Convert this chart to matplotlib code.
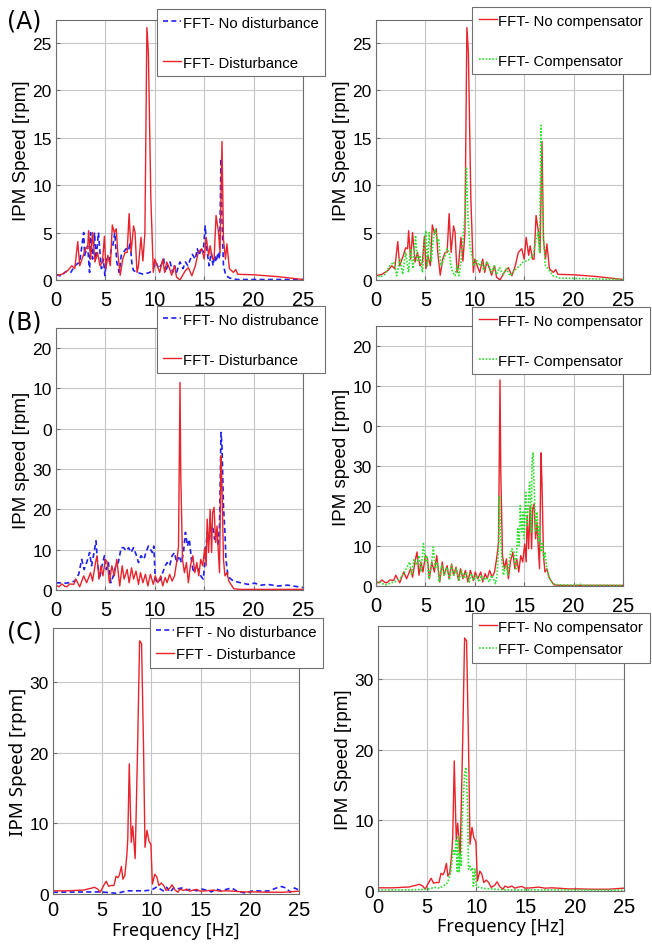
import matplotlib
matplotlib.use('Agg')
import matplotlib.pyplot as plt

plt.rcParams['font.family'] = 'Liberation Sans'

# (A) spectra
a_red_f = [0, 0.6, 1.2, 1.6, 1.9, 2.2, 2.4, 2.8, 3.0, 3.2, 3.3, 3.5, 3.7, 3.95, 4.2, 4.45, 4.7, 4.9, 5.05, 5.25,
           5.5, 5.7, 5.9, 6.1, 6.25, 6.5, 6.75, 7.0, 7.2, 7.4, 7.6, 7.85, 8.0, 8.2, 8.35, 8.6, 8.8, 9.0, 9.2, 9.35,
           9.6, 9.85, 10.0, 10.25, 10.5, 10.8, 11.0, 11.2, 11.5, 11.7, 12.0, 12.2, 12.55, 12.8, 13.1, 13.4, 13.75, 14.1, 14.4, 14.75,
           15.0, 15.2, 15.45, 15.6, 15.85, 16.0, 16.2, 16.45, 16.6, 16.8, 16.95, 17.15, 17.3, 17.55, 17.95, 18.2, 18.4, 20.0, 22.5, 25.0]
a_red = [0.45, 0.6, 1.0, 1.5, 1.2, 4.05, 1.5, 2.7, 3.4, 3.3, 5.2, 2.2, 5.0, 1.9, 2.9, 1.5, 1.9, 4.6, 1.2, 2.6,
         1.5, 5.8, 5.0, 5.4, 2.9, 0.5, 2.2, 2.9, 2.9, 7.0, 2.9, 5.7, 5.0, 0.8, 1.5, 4.5, 2.0, 5.0, 26.6, 24.0,
         8.6, 0.8, 2.2, 1.5, 0.8, 2.2, 0.8, 1.9, 1.2, 0.5, 1.5, 0.3, 0.0, 0.45, 1.0, 1.3, 0.45, 1.5, 2.9, 3.3,
         2.2, 4.5, 2.6, 3.6, 2.2, 2.2, 6.8, 5.0, 2.9, 14.6, 4.3, 2.2, 3.8, 1.2, 0.8, 1.1, 0.6, 0.55, 0.35, 0.05]

a_blue_f = [0, 0.5, 1.0, 1.5, 1.9, 2.4, 2.8, 2.9, 3.2, 3.4, 3.5, 3.7, 3.9, 4.05, 4.3, 4.45, 4.6, 4.8, 4.95, 5.1,
            5.4, 5.6, 5.75, 5.95, 6.15, 6.4, 6.6, 6.8, 7.1, 7.35, 7.5, 7.7, 7.85, 8.2, 8.85, 9.5, 9.85, 10.1, 10.4, 10.6,
            10.9, 11.05, 11.3, 11.55, 11.8, 12.0, 12.2, 12.55, 12.85, 13.1, 13.35, 13.6, 13.8, 14.1, 14.3, 14.5, 14.7, 14.9, 15.1, 15.3,
            15.5, 15.7, 15.9, 16.05, 16.2, 16.4, 16.55, 16.7, 16.8, 16.95, 17.2, 17.6, 18.3, 25.0]
a_blue = [0.6, 0.4, 0.9, 0.8, 1.5, 1.9, 5.0, 2.6, 3.6, 0.8, 5.0, 2.2, 5.0, 2.2, 5.0, 2.9, 1.2, 2.2, 0.45, 2.2,
          1.9, 3.3, 3.6, 5.0, 1.9, 0.8, 2.6, 2.9, 3.3, 3.1, 4.0, 1.5, 1.0, 0.8, 0.6, 0.8, 1.2, 1.9, 1.2, 1.5,
          2.2, 0.8, 1.5, 1.9, 0.8, 1.5, 0.8, 1.9, 1.2, 1.9, 1.5, 2.2, 2.7, 2.2, 3.3, 2.6, 3.4, 2.9, 5.7, 2.9,
          1.5, 2.9, 1.5, 2.6, 1.9, 2.9, 2.2, 12.8, 6.4, 1.5, 0.45, 0.2, 0.05, 0.05]

a_green_f = [0, 0.4, 0.9, 1.4, 1.8, 2.1, 2.4, 2.7, 3.0, 3.3, 3.5, 3.75, 4.0, 4.2, 4.45, 4.7, 4.85, 5.05, 5.2, 5.4,
             5.6, 5.8, 6.0, 6.2, 6.35, 6.55, 6.75, 7.0, 7.2, 7.4, 7.6, 7.75, 8.0, 8.2, 8.4, 8.6, 8.8, 9.0, 9.15, 9.3,
             9.5, 9.7, 9.9, 10.15, 10.45, 10.7, 10.9, 11.2, 11.45, 11.7, 11.95, 12.2, 12.5, 12.85, 13.2, 13.55, 13.9, 14.2, 14.55, 14.9,
             15.2, 15.55, 15.9, 16.15, 16.4, 16.55, 16.7, 16.8, 16.95, 17.15, 17.4, 17.9, 18.6, 25.0]
a_green = [0.7, 0.3, 0.6, 1.5, 1.9, 0.45, 2.2, 0.6, 2.9, 0.8, 3.3, 1.2, 4.7, 1.9, 2.6, 0.8, 3.3, 5.2, 1.5, 5.0,
           1.9, 4.3, 5.4, 4.0, 4.3, 1.5, 1.9, 2.6, 3.3, 2.9, 1.5, 0.8, 0.45, 1.5, 0.45, 1.9, 4.3, 6.8, 11.9, 6.8,
           3.6, 2.6, 1.5, 2.2, 1.5, 1.9, 1.0, 1.9, 1.5, 0.8, 1.5, 0.6, 1.3, 0.6, 1.2, 0.45, 0.8, 1.2, 1.5, 1.9,
           2.0, 2.2, 2.6, 4.0, 5.0, 2.9, 16.3, 10.0, 4.3, 1.5, 1.2, 0.45, 0.2, 0.05]

# (B) spectra
b_red_f = [0, 0.3, 0.6, 0.9, 1.1, 1.4, 1.8, 2.0, 2.4, 2.8, 3.1, 3.5, 3.7, 4.0, 4.15, 4.35, 4.55, 4.75, 5.0, 5.2,
           5.4, 5.65, 5.9, 6.15, 6.45, 6.7, 6.9, 7.2, 7.4, 7.65, 7.85, 8.1, 8.35, 8.55, 8.8, 9.05, 9.3, 9.55, 9.85, 10.05,
           10.3, 10.6, 10.8, 11.05, 11.25, 11.5, 11.75, 12.0, 12.25, 12.4, 12.55, 12.63, 12.7, 12.8, 13.0, 13.2, 13.4, 13.6, 13.85, 14.05,
           14.25, 14.45, 14.65, 14.85, 15.05, 15.2, 15.3, 15.45, 15.6, 15.75, 15.85, 16.0, 16.15, 16.3, 16.4, 16.55, 16.7, 16.8, 16.95, 17.1,
           17.3, 17.5, 17.7, 18.0, 18.7, 25.0]
b_red = [1.2, 0.8, 1.5, 0.9, 0.8, 1.5, 1.4, 2.7, 0.8, 3.5, 1.8, 4.3, 2.2, 6.8, 8.5, 2.7, 6.0, 3.5, 7.6, 6.8,
         1.8, 6.0, 3.5, 7.6, 1.0, 6.0, 2.7, 5.1, 1.8, 5.5, 2.7, 4.7, 1.4, 4.3, 1.8, 3.9, 1.0, 3.9, 1.4, 3.5,
         1.8, 3.5, 1.0, 3.1, 1.8, 3.9, 2.2, 3.5, 7.6, 10.9, 51.5, 28.3, 20.0, 7.6, 4.3, 6.8, 1.8, 6.0, 8.5, 4.3,
         6.8, 3.5, 7.6, 6.0, 10.5, 6.0, 17.6, 9.3, 20.0, 9.3, 19.2, 20.5, 11.8, 15.9, 10.9, 4.3, 33.3, 25.8, 7.6, 3.5,
         4.3, 2.2, 1.4, 0.3, 0.15, 0.15]

b_blue_f = [0, 1.1, 1.9, 2.3, 2.6, 2.85, 3.1, 3.4, 3.6, 3.85, 4.05, 4.2, 4.4, 4.65, 4.9, 5.1, 5.3, 5.55, 5.8, 6.05,
            6.3, 6.6, 6.85, 7.1, 7.35, 7.6, 7.85, 8.15, 8.35, 8.6, 8.9, 9.1, 9.35, 9.55, 9.75, 9.9, 10.05, 10.3, 10.6, 10.8,
            11.05, 11.25, 11.5, 11.75, 12.0, 12.2, 12.45, 12.7, 12.9, 13.1, 13.3, 13.5, 13.7, 13.9, 14.15, 14.4, 14.65, 14.9, 15.1, 15.3,
            15.5, 15.65, 15.85, 16.05, 16.25, 16.4, 16.55, 16.7, 16.8, 16.95, 17.1, 17.2, 17.4, 17.7, 18.0, 18.7, 19.4, 20.1, 20.75, 21.4,
            22.45, 23.45, 24.5, 25.0]
b_blue = [1.8, 1.7, 2.2, 3.9, 7.6, 5.1, 6.8, 9.3, 6.0, 9.3, 12.2, 6.8, 2.7, 6.0, 8.5, 5.1, 6.8, 1.8, 3.5, 6.0,
          6.8, 10.5, 10.5, 9.7, 10.5, 9.3, 10.5, 8.5, 6.8, 8.5, 7.6, 9.3, 10.9, 10.1, 9.3, 10.9, 2.7, 1.8, 2.7, 4.3,
          6.0, 6.8, 6.0, 8.5, 9.3, 6.8, 8.5, 6.8, 9.3, 14.3, 10.9, 12.6, 7.6, 4.3, 6.0, 5.1, 3.5, 2.7, 7.6, 14.3,
          12.6, 15.1, 15.9, 12.6, 14.3, 10.9, 15.9, 39.1, 35.8, 20.9, 14.3, 7.6, 3.5, 2.7, 2.2, 1.8, 1.4, 1.7, 1.2, 1.4,
          1.0, 1.2, 0.8, 0.6]

b_green_f = [0, 0.4, 0.8, 1.1, 1.5, 1.9, 2.4, 2.9, 3.4, 3.6, 3.85, 4.1, 4.35, 4.55, 4.8, 5.0, 5.15, 5.35, 5.6, 5.8,
             6.0, 6.2, 6.4, 6.65, 6.9, 7.15, 7.45, 7.65, 7.9, 8.15, 8.4, 8.65, 8.9, 9.15, 9.45, 9.65, 9.9, 10.15, 10.45, 10.65,
             10.9, 11.2, 11.45, 11.7, 11.95, 12.1, 12.25, 12.4, 12.5, 12.6, 12.75, 12.9, 13.15, 13.35, 13.55, 13.75, 13.95, 14.15, 14.35, 14.5,
             14.6, 14.75, 14.9, 15.0, 15.15, 15.3, 15.4, 15.55, 15.7, 15.8, 15.9, 16.0, 16.15, 16.3, 16.45, 16.55, 16.7, 16.85, 17.0, 17.1,
             17.25, 17.45, 17.65, 17.9, 18.4, 20.3, 20.6, 20.95, 25.0]
b_green = [0.6, 0.9, 0.4, 0.3, 0.8, 1.0, 1.8, 3.5, 6.0, 2.7, 6.8, 5.2, 7.6, 3.5, 10.6, 6.0, 7.6, 1.8, 5.2, 9.7,
           4.3, 6.0, 1.0, 5.2, 2.7, 4.7, 1.8, 5.2, 2.7, 4.3, 1.4, 3.9, 1.8, 3.5, 1.0, 3.1, 1.4, 2.7, 1.0, 2.7,
           1.4, 2.2, 1.0, 2.7, 1.4, 0.6, 2.7, 9.3, 22.6, 13.5, 6.0, 2.7, 5.2, 2.7, 7.6, 9.3, 8.5, 4.3, 14.3, 10.1,
           20.1, 13.5, 18.5, 11.8, 23.4, 15.1, 20.1, 25.9, 13.5, 31.8, 33.4, 25.1, 13.5, 18.5, 11.0, 15.1, 8.5, 11.0, 6.8, 8.5,
           5.2, 2.7, 1.4, 0.6, 0.3, 0.2, 0.5, 0.2, 0.15]

# (C) spectra
c_red_f = [0, 1.5, 3.2, 3.5, 3.85, 4.2, 4.55, 4.8, 5.15, 5.4, 5.65, 5.9, 6.2, 6.4, 6.6, 6.75, 6.95, 7.1, 7.3, 7.5,
           7.6, 7.75, 7.95, 8.1, 8.2, 8.35, 8.6, 8.8, 9.0, 9.2, 9.35, 9.55, 9.75, 9.95, 10.1, 10.35, 10.55, 10.75, 11.0, 11.25,
           11.5, 11.85, 12.1, 12.4, 12.7, 12.9, 13.25, 13.6, 13.9, 14.25, 14.6, 14.95, 15.6, 16.3, 17.0, 17.6, 18.3, 19.3, 20.35, 21.7,
           23.4, 25.0]
c_red = [0.45, 0.45, 0.57, 0.7, 0.8, 0.95, 0.7, 0.25, 1.2, 1.8, 1.1, 1.2, 1.2, 2.5, 2.3, 2.7, 3.9, 2.1, 2.6, 5.4,
         7.8, 18.4, 7.3, 9.6, 7.8, 5.0, 20.8, 35.8, 35.4, 20.8, 6.6, 9.0, 7.5, 7.0, 1.4, 2.8, 2.4, 1.2, 1.55, 1.2,
         0.5, 0.8, 1.3, 0.57, 0.25, 0.7, 0.5, 0.7, 0.4, 0.55, 0.65, 0.4, 0.45, 0.55, 0.4, 0.45, 0.4, 0.3, 0.3, 0.25,
         0.25, 0.4]

c_blue_f = [0, 4.8, 6.5, 7.5, 9.2, 10.0, 10.55, 10.9, 11.2, 11.55, 11.9, 12.25, 12.55, 13.1, 13.6, 14.1, 14.6, 15.1, 15.6, 16.1,
            16.6, 17.1, 17.6, 18.15, 18.65, 19.15, 19.7, 20.15, 20.7, 21.35, 22.0, 22.7, 23.2, 23.7, 24.1, 24.55, 25.0]
c_blue = [0.25, 0.3, 0.1, 0.45, 0.45, 0.55, 1.0, 0.7, 0.45, 0.95, 0.25, 0.85, 0.7, 0.85, 0.55, 0.7, 0.45, 0.7, 0.55, 0.3,
          0.7, 0.45, 0.65, 0.85, 0.45, 0.25, 0.1, 0.4, 0.45, 0.4, 0.45, 0.85, 1.05, 0.85, 0.25, 0.85, 0.55]

c_green_f = [0, 3.05, 5.0, 5.75, 6.3, 6.6, 6.95, 7.2, 7.4, 7.5, 7.65, 7.8, 7.95, 8.05, 8.15, 8.25, 8.35, 8.45, 8.55, 8.7,
             8.8, 8.95, 9.1, 9.2, 9.35, 9.5, 9.6, 9.7, 9.85, 10.0, 10.25, 10.85, 11.85, 13.2, 16.6, 20.0, 25.0]
c_green = [0.15, 0.15, 0.25, 0.5, 0.4, 0.7, 0.95, 1.65, 2.6, 4.0, 5.9, 5.2, 7.3, 2.8, 7.8, 2.6, 5.4, 3.5, 10.1, 13.9,
           16.7, 17.5, 12.0, 3.1, 3.5, 2.8, 3.3, 0.7, 3.1, 0.7, 0.5, 0.35, 0.25, 0.15, 0.15, 0.15, 0.1]

x_ticks = [0, 5, 10, 15, 20, 25]
a_yticks = [0, 5, 10, 15, 20, 25]
b_yticks = [0, 10, 20, 30, 40, 50, 60]
b_yticklabels = ['0', '10', '20', '30', '0', '10', '20']
c_yticks = [0, 10, 20, 30]

RED = '#e8232b'
BLUE = '#2020f0'
GREEN = '#2ee02e'

W, H = 652, 945
fig = plt.figure(figsize=(W / 100, H / 100), dpi=100)


def px_axes(x0, x1, top, bottom):
    return fig.add_axes([x0 / W, 1 - bottom / H, (x1 - x0) / W, (bottom - top) / H])


def style(ax, ylim, yticks, ylabel, yticklabels=None, xlabel=None, label_font=None):
    ax.set_xlim(0, 25)
    ax.set_ylim(0, ylim)
    ax.set_xticks(x_ticks)
    ax.set_yticks(yticks)
    if yticklabels is not None:
        ax.set_yticklabels(yticklabels)
    ax.grid(True, color='#c6c6c6', linewidth=0.8)
    ax.set_axisbelow(True)
    for s in ax.spines.values():
        s.set_color('#6e6e6e')
        s.set_linewidth(0.8)
    ax.tick_params(axis='both', direction='in', length=3, color='#6e6e6e')
    ax.tick_params(axis='x', labelsize=14.5, pad=4 if xlabel else 7)
    ax.tick_params(axis='y', labelsize=12.5, pad=3)
    kw = {'fontsize': 13.5}
    if label_font:
        kw['family'] = label_font
    ax.set_ylabel(ylabel, **kw)
    ax.yaxis.set_label_coords(-0.105, 0.5)
    if xlabel:
        ax.set_xlabel(xlabel, fontsize=13, family='Noto Sans')
        ax.xaxis.set_label_coords(0.5, -0.1)


def legend(ax, anchor, spacing):
    leg = ax.legend(loc='upper right', bbox_to_anchor=(anchor[0] / W, 1 - anchor[1] / H),
                    bbox_transform=fig.transFigure, fontsize=10.7, handlelength=1.2,
                    handletextpad=0.1, borderpad=0.45, labelspacing=spacing, borderaxespad=0,
                    fancybox=False, framealpha=1, edgecolor='#707070')
    leg.get_frame().set_linewidth(0.8)


dist_kw = dict(color=RED, linewidth=1.0)
nodist_kw = dict(color=BLUE, linewidth=1.2, linestyle=(0, (3, 2)))
comp_kw = dict(color=GREEN, linewidth=1.2, linestyle=(0, (1, 1)))

# row A
ax = px_axes(56, 303, 21, 281)
ax.plot(a_blue_f, a_blue, label='FFT- No disturbance', **nodist_kw)
ax.plot(a_red_f, a_red, label='FFT- Disturbance', **dist_kw)
style(ax, 27.4, a_yticks, 'IPM Speed [rpm]')
legend(ax, (325, 10), 1.75)

ax = px_axes(376, 623, 21, 281)
ax.plot(a_red_f, a_red, label='FFT- No compensator', **dist_kw)
ax.plot(a_green_f, a_green, label='FFT- Compensator', **comp_kw)
style(ax, 27.4, a_yticks, 'IPM Speed [rpm]')
legend(ax, (650, 8), 1.75)

# row B
ax = px_axes(56, 303, 329, 591)
ax.plot(b_blue_f, b_blue, label='FFT- No distrubance', **nodist_kw)
ax.plot(b_red_f, b_red, label='FFT- Disturbance', **dist_kw)
style(ax, 65, b_yticks, 'IPM speed [rpm]', b_yticklabels)
legend(ax, (325, 307), 1.75)

ax = px_axes(376, 623, 327, 587)
ax.plot(b_red_f, b_red, label='FFT- No compensator', **dist_kw)
ax.plot(b_green_f, b_green, label='FFT- Compensator', **comp_kw)
style(ax, 65, b_yticks, 'IPM speed [rpm]', b_yticklabels)
legend(ax, (650, 308), 1.75)

# row C
ax = px_axes(53, 299, 629, 895)
ax.plot(c_blue_f, c_blue, label='FFT - No disturbance', **nodist_kw)
ax.plot(c_red_f, c_red, label='FFT - Disturbance', **dist_kw)
style(ax, 37.6, c_yticks, 'IPM Speed [rpm]', xlabel='Frequency [Hz]', label_font='Noto Sans')
legend(ax, (323, 619), 0.55)

ax = px_axes(378, 624, 627, 892)
ax.plot(c_red_f, c_red, label='FFT- No compensator', **dist_kw)
ax.plot(c_green_f, c_green, label='FFT- Compensator', **comp_kw)
style(ax, 37.5, c_yticks, 'IPM Speed [rpm]', xlabel='Frequency [Hz]')
legend(ax, (650, 614), 0.55)

for txt, y in [('(A)', 22), ('(B)', 323), ('(C)', 633)]:
    fig.text(7 / W, 1 - y / H, txt, fontsize=17, family='DejaVu Sans', va='center', ha='left')

fig.savefig('out.png', dpi=100)
